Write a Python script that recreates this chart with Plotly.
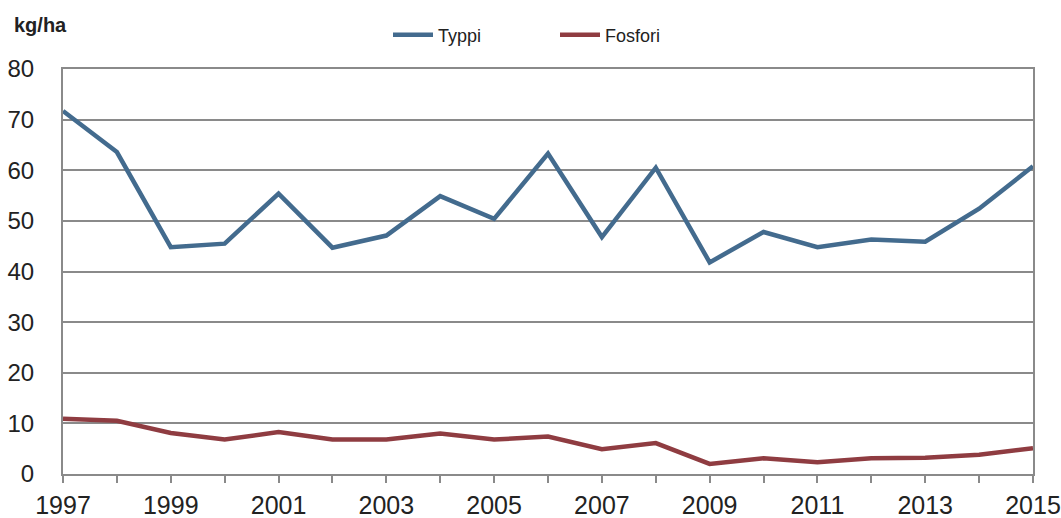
import plotly.graph_objects as go

years = list(range(1997, 2016))
typpi = [71.7, 63.6, 44.8, 45.5, 55.4, 44.7, 47.1, 54.9, 50.4, 63.3,
         46.8, 60.5, 41.8, 47.8, 44.8, 46.3, 45.9, 52.4, 60.8]
fosfori = [10.9, 10.5, 8.1, 6.8, 8.3, 6.8, 6.8, 8.0, 6.8, 7.4,
           4.9, 6.1, 2.0, 3.1, 2.3, 3.1, 3.2, 3.8, 5.1]
x_ticks = list(range(1997, 2016, 2))
y_ticks = list(range(0, 90, 10))

fig = go.Figure()
fig.add_trace(go.Scatter(x=years, y=typpi, mode="lines", name="Typpi",
                         line=dict(color="#436b8e", width=4.5)))
fig.add_trace(go.Scatter(x=years, y=fosfori, mode="lines", name="Fosfori",
                         line=dict(color="#8f3c41", width=4.5)))

font_family = "Liberation Sans, Arial, sans-serif"
L, R, T, B = 63, 28, 69, 44
W, H = 1061, 518
plot_w = W - L - R
plot_h = H - T - B

fig.update_layout(
    width=W, height=H,
    margin=dict(l=L, r=R, t=T, b=B, autoexpand=False),
    paper_bgcolor="white", plot_bgcolor="white",
    font=dict(family=font_family, color="#222222"),
    showlegend=True,
    legend=dict(orientation="h", x=(388 - L) / plot_w, xanchor="left",
                y=(H - B - 35) / plot_h, yanchor="middle",
                font=dict(size=18, color="#222222"),
                entrywidth=112, itemwidth=40, traceorder="normal"),
    annotations=[dict(text="<b>kg/ha</b>", x=(12 - L) / plot_w,
                      y=(H - B - 25) / plot_h, xref="paper", yref="paper",
                      showarrow=False, font=dict(size=20, color="#222222"),
                      xanchor="left", yanchor="middle")],
)

fig.update_xaxes(
    range=[1997, 2015], tickvals=x_ticks, ticktext=[str(v) for v in x_ticks],
    automargin=False,
    showgrid=False, zeroline=False,
    showline=True, linecolor="#8a8a8a", linewidth=2, mirror=True,
    ticks="outside", ticklen=7, tickcolor="#8a8a8a", tickwidth=2,
    minor=dict(ticks="outside", ticklen=7, tickcolor="#8a8a8a", tickwidth=2,
               tickvals=years),
    ticklabelstandoff=1,
    tickfont=dict(size=25, color="#222222", family=font_family),
)
fig.update_yaxes(
    range=[0, 80], tickvals=y_ticks, automargin=False,
    showgrid=True, gridcolor="#8a8a8a", gridwidth=2,
    zeroline=False,
    showline=True, linecolor="#8a8a8a", linewidth=2, mirror=True,
    ticks="", ticklabelstandoff=22,
    tickfont=dict(size=24, color="#222222", family=font_family),
)

fig.write_html("out.html")
